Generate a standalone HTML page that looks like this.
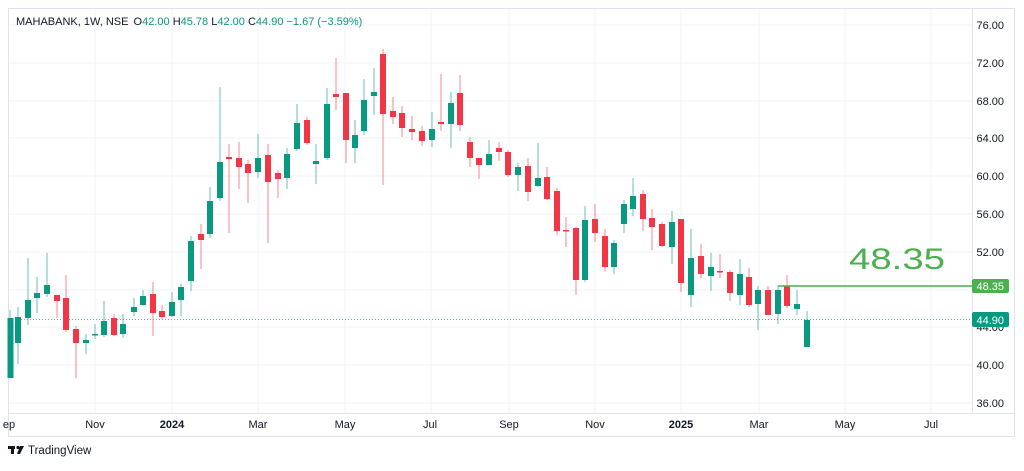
<!DOCTYPE html>
<html><head><meta charset="utf-8"><style>
body{margin:0;background:#fff;width:1024px;height:466px;overflow:hidden;font-family:"Liberation Sans",sans-serif}
</style></head><body>
<svg width="1024" height="466" xmlns="http://www.w3.org/2000/svg" font-family="Liberation Sans, sans-serif">
<rect x="8.5" y="8.5" width="1006" height="428" fill="#fff" stroke="#e0e3eb"/>
<g stroke="#f0f3fa" stroke-width="1">
<line x1="9" x2="972" y1="25" y2="25"/><line x1="9" x2="972" y1="63" y2="63"/><line x1="9" x2="972" y1="101" y2="101"/><line x1="9" x2="972" y1="138" y2="138"/><line x1="9" x2="972" y1="176" y2="176"/><line x1="9" x2="972" y1="214" y2="214"/><line x1="9" x2="972" y1="252" y2="252"/><line x1="9" x2="972" y1="290" y2="290"/><line x1="9" x2="972" y1="327" y2="327"/><line x1="9" x2="972" y1="365" y2="365"/><line x1="9" x2="972" y1="403" y2="403"/>
<line x1="95" x2="95" y1="9" y2="413"/><line x1="172" x2="172" y1="9" y2="413"/><line x1="258" x2="258" y1="9" y2="413"/><line x1="345" x2="345" y1="9" y2="413"/><line x1="431" x2="431" y1="9" y2="413"/><line x1="509" x2="509" y1="9" y2="413"/><line x1="595" x2="595" y1="9" y2="413"/><line x1="681" x2="681" y1="9" y2="413"/><line x1="759" x2="759" y1="9" y2="413"/><line x1="845" x2="845" y1="9" y2="413"/><line x1="931" x2="931" y1="9" y2="413"/>
</g>
<line x1="9" x2="1014" y1="413.5" y2="413.5" stroke="#e0e3eb"/>
<line x1="972.5" x2="972.5" y1="9" y2="413" stroke="#e0e3eb"/>
<line x1="9" x2="972" y1="319.5" y2="319.5" stroke="#089981" stroke-dasharray="1,2" opacity="0.7"/>
<g fill="#089981" stroke="#089981">
<line x1="10" x2="10" y1="310" y2="378" opacity=".6"/><rect x="7.5" y="318" width="6" height="60" stroke="none"/>
<line x1="18" x2="18" y1="307" y2="364" opacity=".6"/><rect x="15" y="317" width="6" height="26" stroke="none"/>
<line x1="28" x2="28" y1="258" y2="325" opacity=".6"/><rect x="25" y="300" width="6" height="18" stroke="none"/>
<line x1="37" x2="37" y1="277" y2="313" opacity=".6"/><rect x="34" y="293" width="6" height="5" stroke="none"/>
<line x1="47" x2="47" y1="253" y2="297" opacity=".6"/><rect x="44" y="285" width="6" height="9" stroke="none"/>
<line x1="86" x2="86" y1="334" y2="354" opacity=".6"/><rect x="83" y="340" width="6" height="3" stroke="none"/>
<line x1="95" x2="95" y1="324" y2="339" opacity=".6"/><rect x="92" y="334" width="6" height="1.5" stroke="none"/>
<line x1="104" x2="104" y1="301" y2="337" opacity=".6"/><rect x="101" y="321" width="6" height="14" stroke="none"/>
<line x1="123" x2="123" y1="314" y2="338" opacity=".6"/><rect x="120" y="324" width="6" height="10" stroke="none"/>
<line x1="134" x2="134" y1="298" y2="316" opacity=".6"/><rect x="131" y="307" width="6" height="5" stroke="none"/>
<line x1="143" x2="143" y1="290" y2="306" opacity=".6"/><rect x="140" y="296" width="6" height="9" stroke="none"/>
<line x1="172" x2="172" y1="292" y2="317" opacity=".6"/><rect x="169" y="302" width="6" height="14" stroke="none"/>
<line x1="181" x2="181" y1="284" y2="316" opacity=".6"/><rect x="178" y="287" width="6" height="13" stroke="none"/>
<line x1="191" x2="191" y1="236" y2="291" opacity=".6"/><rect x="188" y="241" width="6" height="40" stroke="none"/>
<line x1="210" x2="210" y1="187" y2="238" opacity=".6"/><rect x="207" y="201" width="6" height="33" stroke="none"/>
<line x1="220" x2="220" y1="87" y2="201" opacity=".6"/><rect x="217" y="162" width="6" height="36" stroke="none"/>
<line x1="258" x2="258" y1="134" y2="178" opacity=".6"/><rect x="255" y="158" width="6" height="14" stroke="none"/>
<line x1="287" x2="287" y1="148" y2="189" opacity=".6"/><rect x="284" y="154" width="6" height="24" stroke="none"/>
<line x1="297" x2="297" y1="104" y2="151" opacity=".6"/><rect x="294" y="123" width="6" height="26" stroke="none"/>
<line x1="316" x2="316" y1="144" y2="184" opacity=".6"/><rect x="313" y="161" width="6" height="3" stroke="none"/>
<line x1="327" x2="327" y1="88" y2="160" opacity=".6"/><rect x="324" y="104" width="6" height="54" stroke="none"/>
<line x1="355" x2="355" y1="120" y2="163" opacity=".6"/><rect x="352" y="135" width="6" height="13" stroke="none"/>
<line x1="364" x2="364" y1="79" y2="135" opacity=".6"/><rect x="361" y="100" width="6" height="31" stroke="none"/>
<line x1="374" x2="374" y1="68" y2="115" opacity=".6"/><rect x="371" y="92" width="6" height="4" stroke="none"/>
<line x1="432" x2="432" y1="112" y2="147" opacity=".6"/><rect x="429" y="129" width="6" height="11" stroke="none"/>
<line x1="451" x2="451" y1="92" y2="148" opacity=".6"/><rect x="448" y="103" width="6" height="21" stroke="none"/>
<line x1="489" x2="489" y1="140" y2="165" opacity=".6"/><rect x="486" y="154" width="6" height="11" stroke="none"/>
<line x1="518" x2="518" y1="163" y2="191" opacity=".6"/><rect x="515" y="167" width="6" height="8" stroke="none"/>
<line x1="538" x2="538" y1="143" y2="187" opacity=".6"/><rect x="535" y="178" width="6" height="8" stroke="none"/>
<line x1="585" x2="585" y1="206" y2="282" opacity=".6"/><rect x="582" y="220" width="6" height="60" stroke="none"/>
<line x1="614" x2="614" y1="240" y2="274" opacity=".6"/><rect x="611" y="243" width="6" height="24" stroke="none"/>
<line x1="624" x2="624" y1="200" y2="233" opacity=".6"/><rect x="621" y="204" width="6" height="20" stroke="none"/>
<line x1="633" x2="633" y1="178" y2="216" opacity=".6"/><rect x="630" y="196" width="6" height="13" stroke="none"/>
<line x1="672" x2="672" y1="211" y2="264" opacity=".6"/><rect x="669" y="222" width="6" height="25" stroke="none"/>
<line x1="691" x2="691" y1="229" y2="307" opacity=".6"/><rect x="688" y="258" width="6" height="37" stroke="none"/>
<line x1="711" x2="711" y1="253" y2="291" opacity=".6"/><rect x="708" y="267" width="6" height="9" stroke="none"/>
<line x1="740" x2="740" y1="259" y2="305" opacity=".6"/><rect x="737" y="274" width="6" height="21" stroke="none"/>
<line x1="758" x2="758" y1="286" y2="330" opacity=".6"/><rect x="755" y="290" width="6" height="14" stroke="none"/>
<line x1="778" x2="778" y1="286" y2="324" opacity=".6"/><rect x="775" y="290" width="6" height="24" stroke="none"/>
<line x1="797" x2="797" y1="290" y2="315" opacity=".6"/><rect x="794" y="304" width="6" height="5" stroke="none"/>
<line x1="807" x2="807" y1="311" y2="347" opacity=".6"/><rect x="804" y="320" width="6" height="27" stroke="none"/>
</g>
<g fill="#F23645" stroke="#F23645">
<line x1="57" x2="57" y1="295" y2="318" opacity=".6"/><rect x="54" y="295" width="6" height="6" stroke="none"/>
<line x1="66" x2="66" y1="275" y2="332" opacity=".6"/><rect x="63" y="298" width="6" height="32" stroke="none"/>
<line x1="76" x2="76" y1="326" y2="378" opacity=".6"/><rect x="73" y="329" width="6" height="14" stroke="none"/>
<line x1="114" x2="114" y1="314" y2="336" opacity=".6"/><rect x="111" y="318" width="6" height="17" stroke="none"/>
<line x1="153" x2="153" y1="282" y2="336" opacity=".6"/><rect x="150" y="294" width="6" height="19" stroke="none"/>
<line x1="162" x2="162" y1="305" y2="319" opacity=".6"/><rect x="159" y="311" width="6" height="6" stroke="none"/>
<line x1="201" x2="201" y1="224" y2="269" opacity=".6"/><rect x="198" y="234" width="6" height="6" stroke="none"/>
<line x1="229" x2="229" y1="144" y2="233" opacity=".6"/><rect x="226" y="157" width="6" height="2" stroke="none"/>
<line x1="239" x2="239" y1="142" y2="189" opacity=".6"/><rect x="236" y="158" width="6" height="9" stroke="none"/>
<line x1="248" x2="248" y1="160" y2="203" opacity=".6"/><rect x="245" y="164" width="6" height="9" stroke="none"/>
<line x1="268" x2="268" y1="144" y2="243" opacity=".6"/><rect x="265" y="155" width="6" height="27" stroke="none"/>
<line x1="278" x2="278" y1="170" y2="198" opacity=".6"/><rect x="275" y="173" width="6" height="6" stroke="none"/>
<line x1="307" x2="307" y1="117" y2="145" opacity=".6"/><rect x="304" y="120" width="6" height="23" stroke="none"/>
<line x1="336" x2="336" y1="58" y2="110" opacity=".6"/><rect x="333" y="94" width="6" height="3" stroke="none"/>
<line x1="346" x2="346" y1="93" y2="163" opacity=".6"/><rect x="343" y="93" width="6" height="47" stroke="none"/>
<line x1="383" x2="383" y1="49" y2="185" opacity=".6"/><rect x="380" y="54" width="6" height="60" stroke="none"/>
<line x1="393" x2="393" y1="97" y2="124" opacity=".6"/><rect x="390" y="111" width="6" height="6" stroke="none"/>
<line x1="402" x2="402" y1="106" y2="137" opacity=".6"/><rect x="399" y="113" width="6" height="15" stroke="none"/>
<line x1="412" x2="412" y1="116" y2="140" opacity=".6"/><rect x="409" y="129" width="6" height="3" stroke="none"/>
<line x1="422" x2="422" y1="126" y2="146" opacity=".6"/><rect x="419" y="131" width="6" height="10" stroke="none"/>
<line x1="441" x2="441" y1="74" y2="131" opacity=".6"/><rect x="438" y="122" width="6" height="2" stroke="none"/>
<line x1="460" x2="460" y1="75" y2="131" opacity=".6"/><rect x="457" y="93" width="6" height="32" stroke="none"/>
<line x1="470" x2="470" y1="137" y2="167" opacity=".6"/><rect x="467" y="142" width="6" height="16" stroke="none"/>
<line x1="479" x2="479" y1="158" y2="179" opacity=".6"/><rect x="476" y="158" width="6" height="7" stroke="none"/>
<line x1="499" x2="499" y1="142" y2="161" opacity=".6"/><rect x="496" y="148" width="6" height="4" stroke="none"/>
<line x1="508" x2="508" y1="150" y2="177" opacity=".6"/><rect x="505" y="152" width="6" height="23" stroke="none"/>
<line x1="528" x2="528" y1="158" y2="201" opacity=".6"/><rect x="525" y="166" width="6" height="26" stroke="none"/>
<line x1="547" x2="547" y1="167" y2="200" opacity=".6"/><rect x="544" y="177" width="6" height="22" stroke="none"/>
<line x1="557" x2="557" y1="188" y2="235" opacity=".6"/><rect x="554" y="191" width="6" height="40" stroke="none"/>
<line x1="566" x2="566" y1="217" y2="247" opacity=".6"/><rect x="563" y="230" width="6" height="1.5" stroke="none"/>
<line x1="576" x2="576" y1="227" y2="295" opacity=".6"/><rect x="573" y="228" width="6" height="52" stroke="none"/>
<line x1="595" x2="595" y1="204" y2="242" opacity=".6"/><rect x="592" y="219" width="6" height="14" stroke="none"/>
<line x1="605" x2="605" y1="229" y2="271" opacity=".6"/><rect x="602" y="236" width="6" height="31" stroke="none"/>
<line x1="643" x2="643" y1="190" y2="231" opacity=".6"/><rect x="640" y="194" width="6" height="25" stroke="none"/>
<line x1="652" x2="652" y1="209" y2="250" opacity=".6"/><rect x="649" y="218" width="6" height="9" stroke="none"/>
<line x1="662" x2="662" y1="222" y2="247" opacity=".6"/><rect x="659" y="224" width="6" height="22" stroke="none"/>
<line x1="681" x2="681" y1="219" y2="292" opacity=".6"/><rect x="678" y="219" width="6" height="64" stroke="none"/>
<line x1="701" x2="701" y1="244" y2="278" opacity=".6"/><rect x="698" y="256" width="6" height="18" stroke="none"/>
<line x1="720" x2="720" y1="254" y2="278" opacity=".6"/><rect x="717" y="271" width="6" height="1.5" stroke="none"/>
<line x1="730" x2="730" y1="270" y2="301" opacity=".6"/><rect x="727" y="272" width="6" height="21" stroke="none"/>
<line x1="749" x2="749" y1="268" y2="307" opacity=".6"/><rect x="746" y="277" width="6" height="28" stroke="none"/>
<line x1="768" x2="768" y1="286" y2="315" opacity=".6"/><rect x="765" y="290" width="6" height="25" stroke="none"/>
<line x1="787" x2="787" y1="275" y2="308" opacity=".6"/><rect x="784" y="286" width="6" height="20" stroke="none"/>
</g>
<line x1="778" x2="972" y1="286" y2="286" stroke="#4CAF50" stroke-width="1.5"/>
<text x="849" y="269" font-size="30" fill="#4CAF50" textLength="96" lengthAdjust="spacingAndGlyphs">48.35</text>
<g font-size="11" fill="#131722" text-anchor="end">
<text x="1004" y="29">76.00</text><text x="1004" y="67">72.00</text><text x="1004" y="105">68.00</text><text x="1004" y="142">64.00</text><text x="1004" y="180">60.00</text><text x="1004" y="218">56.00</text><text x="1004" y="256">52.00</text><text x="1004" y="331">44.00</text><text x="1004" y="369">40.00</text><text x="1004" y="407">36.00</text>
</g>
<rect x="972" y="279" width="37" height="14" rx="2" fill="#4CAF50"/>
<text x="1004" y="290" font-size="11" fill="#fff" text-anchor="end">48.35</text>
<rect x="972" y="312" width="37" height="15" rx="2" fill="#089981"/>
<text x="1004" y="324" font-size="11" fill="#fff" text-anchor="end">44.90</text>
<g font-size="11" fill="#131722" text-anchor="middle">
<text x="9" y="428">ep</text><text x="95" y="428">Nov</text><text x="172" y="428" font-weight="bold">2024</text><text x="258" y="428">Mar</text><text x="345" y="428">May</text><text x="430" y="428">Jul</text><text x="509" y="428">Sep</text><text x="595" y="428">Nov</text><text x="681" y="428" font-weight="bold">2025</text><text x="759" y="428">Mar</text><text x="845" y="428">May</text><text x="931" y="428">Jul</text>
</g>
<text x="16" y="25" font-size="11" fill="#131722">MAHABANK, 1W, NSE <tspan dx="2">O</tspan><tspan fill="#089981">42.00</tspan> <tspan>H</tspan><tspan fill="#089981">45.78</tspan> <tspan>L</tspan><tspan fill="#089981">42.00</tspan> <tspan>C</tspan><tspan fill="#089981">44.90 −1.67 (−3.59%)</tspan></text>
<g fill="#131722"><rect x="8" y="446" width="7" height="3"/><rect x="11" y="446" width="3" height="8"/><circle cx="18" cy="447.5" r="1.6"/><path d="M20 446h4l-4 8h-3z"/></g>
<text x="28" y="454" font-size="11.5" fill="#131722">TradingView</text>
</svg>
</body></html>
